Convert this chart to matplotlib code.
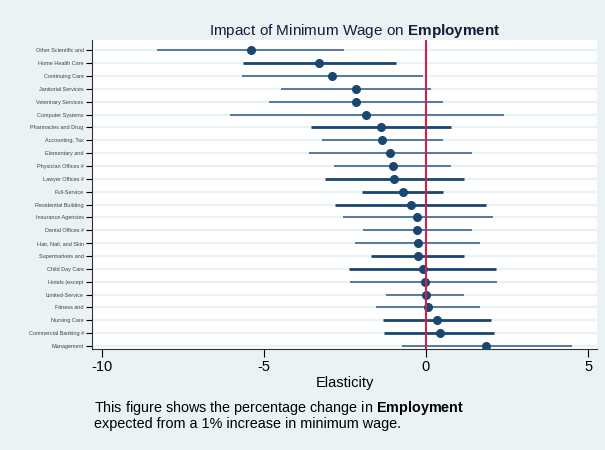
import numpy as np
import matplotlib
matplotlib.use('Agg')
import matplotlib.pyplot as plt

plt.rcParams['font.family'] = ['Liberation Sans', 'DejaVu Sans']
plt.rcParams['mathtext.fontset'] = 'custom'
plt.rcParams['mathtext.rm'] = 'Liberation Sans'
plt.rcParams['mathtext.bf'] = 'Liberation Sans:bold'

# data, top to bottom
industries = ['Other Scientific and', 'Home Health Care', 'Continuing Care', 'Janitorial Services',
              'Veterinary Services', 'Computer Systems', 'Pharmacies and Drug', 'Accounting, Tax',
              'Elementary and', 'Physician Offices #', 'Lawyer Offices #', 'Full-Service',
              'Residential Building', 'Insurance Agencies', 'Dental Offices #', 'Hair, Nail, and Skin',
              'Supermarkets and', 'Child Day Care', 'Hotels (except', 'Limited-Service',
              'Fitness and', 'Nursing Care', 'Commercial Banking #', 'Management']
estimate = [-5.39, -3.29, -2.89, -2.17, -2.15, -1.84, -1.40, -1.35, -1.11, -1.03, -0.99, -0.72,
            -0.46, -0.28, -0.28, -0.25, -0.25, -0.09, -0.04, 0.00, 0.06, 0.35, 0.43, 1.86]
ci_low = [-8.28, -5.65, -5.67, -4.47, -4.84, -6.03, -3.56, -3.20, -3.62, -2.83, -3.12, -1.97,
          -2.79, -2.57, -1.93, -2.19, -1.70, -2.37, -2.33, -1.22, -1.54, -1.31, -1.28, -0.75]
ci_high = [-2.52, -0.91, -0.10, 0.15, 0.53, 2.40, 0.78, 0.53, 1.41, 0.77, 1.17, 0.53,
           1.84, 2.06, 1.41, 1.67, 1.17, 2.16, 2.20, 1.17, 1.67, 2.00, 2.11, 4.50]
bold_row = [0, 1, 0, 0, 0, 0, 1, 0, 0, 0, 1, 1, 1, 0, 0, 0, 1, 1, 0, 0, 0, 1, 1, 0]

bg = '#eaf2f3'
navy = '#1a476f'
steel = '#4a7199'

fig = plt.figure(figsize=(6.05, 4.5), dpi=100, facecolor=bg)
ax = fig.add_axes([0.152, 0.224, 0.835, 0.687])
ax.set_facecolor('white')

n = len(industries)
y = np.arange(n)
for i in range(n):
    ax.axhline(y[i], color=bg, lw=1.6, zorder=0)
    if bold_row[i]:
        ax.plot([ci_low[i], ci_high[i]], [y[i], y[i]], color=navy, lw=2.0, solid_capstyle='butt', zorder=2)
    else:
        ax.plot([ci_low[i], ci_high[i]], [y[i], y[i]], color=steel, lw=1.3, solid_capstyle='butt', zorder=2)
ax.plot(estimate, y, 'o', color=navy, ms=5.5, zorder=3)
ax.axvline(0, color='#d0234a', lw=1.5, zorder=4)

ax.set_xlim(-10.3, 5.28)
ax.set_ylim(n - 0.75, -0.8)
ax.set_yticks(y)
ax.set_yticklabels(industries, fontsize=4, color='#444444')
ax.set_xticks([-10, -5, 0, 5])
ax.set_xticklabels(['-10', '-5', '0', '5'], fontsize=10.5)
ax.tick_params(axis='y', length=4, width=0.8, pad=2)
ax.tick_params(axis='x', length=6, width=0.8, pad=2)
for s in ['top', 'right']:
    ax.spines[s].set_visible(False)
for s in ['left', 'bottom']:
    ax.spines[s].set_color('#333333')
    ax.spines[s].set_linewidth(0.8)

ax.set_xlabel('Elasticity', fontsize=10.5, labelpad=1)
fig.text(0.587, 0.932, r'Impact of Minimum Wage on $\bf{Employment}$', ha='center', va='center',
         fontsize=11, color='#1a1a3a')
fig.text(0.156, 0.078, r'This figure shows the percentage change in $\bf{Employment}$' + '\nexpected from a 1% increase in minimum wage.',
         ha='left', va='center', fontsize=10.4, linespacing=0.95)

fig.savefig('out.png', dpi=100, facecolor=bg)
